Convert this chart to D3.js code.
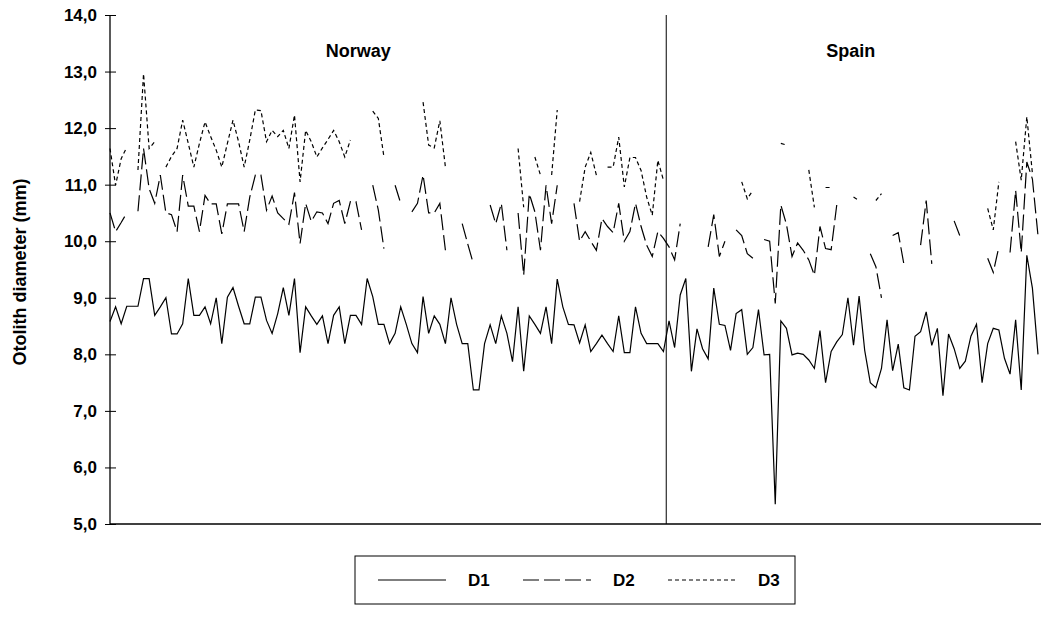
<!DOCTYPE html>
<html>
<head>
<meta charset="utf-8">
<script src="https://cdn.jsdelivr.net/npm/d3@7"></script>
<style>
  body { margin: 0; background: #fff; }
  text { font-family: "Liberation Sans", Arial, sans-serif; font-weight: bold; }
</style>
</head>
<body>
<div id="chart"></div>
<script>
// otolith diameters, one value per fish (null = not measured)
const d1 = [
  8.58, 8.84, 8.54, 8.85, 8.85, 8.85, 9.34, 9.34, 8.69, 8.84,
  9.0, 8.36, 8.36, 8.54, 9.34, 8.69, 8.69, 8.84, 8.54, 9.0,
  8.19, 9.01, 9.18, 8.85, 8.54, 8.54, 9.01, 9.01, 8.6, 8.37,
  8.72, 9.18, 8.69, 9.34, 8.03, 8.84, 8.68, 8.53, 8.68, 8.19,
  8.69, 8.84, 8.19, 8.69, 8.69, 8.53, 9.34, 9.02, 8.53, 8.53,
  8.19, 8.37, 8.84, 8.53, 8.19, 8.03, 9.02, 8.37, 8.68, 8.53,
  8.19, 9.0, 8.53, 8.19, 8.19, 7.37, 7.37, 8.19, 8.52, 8.19,
  8.68, 8.37, 7.87, 8.84, 7.70, 8.68, 8.53, 8.37, 8.84, 8.19,
  9.33, 8.84, 8.53, 8.52, 8.2, 8.52, 8.05, 8.19, 8.34, 8.19,
  8.05, 8.68, 8.03, 8.03, 8.84, 8.37, 8.19, 8.19, 8.19, 8.05,
  8.59, 8.12, 9.05, 9.34, 7.70, 8.45, 8.1, 7.92, 9.17, 8.53,
  8.51, 8.07, 8.72, 8.79, 8.0, 8.12, 8.79, 7.99, 8.0, 5.35,
  8.59, 8.46, 7.99, 8.02, 8.0, 7.9, 7.75, 8.42, 7.5, 8.05,
  8.22, 8.35, 9.0, 8.16, 9.03, 8.07, 7.5, 7.41, 7.75, 8.61,
  7.71, 8.18, 7.41, 7.37, 8.32, 8.4, 8.75, 8.16, 8.46, 7.27,
  8.36, 8.1, 7.75, 7.88, 8.32, 8.53, 7.5, 8.19, 8.46, 8.43,
  7.93, 7.65, 8.61, 7.37, 9.75, 9.17, 8.0
];

const d2 = [
  10.5, 10.17, 10.33, 10.5, null, 10.53, 11.64, 10.93, 10.67, 11.17,
  10.5, 10.47, 10.17, 11.17, 10.62, 10.62, 10.17, 10.81, 10.66, 10.66,
  10.13, 10.66, 10.66, 10.66, 10.17, 10.78, 11.17, 11.17, 10.55, 10.8,
  10.5, 10.4, 10.3, 10.86, 9.96, 10.67, 10.35, 10.52, 10.5, 10.31,
  10.67, 10.72, 10.31, 10.7, 10.7, 10.2, null, 10.99, 10.55, 9.87,
  null, 10.99, 10.67, null, 10.52, 10.67, 11.17, 10.5, 10.5, 10.67,
  9.84, null, null, 10.31, 9.95, 9.6, null, null, 10.64, 10.31,
  10.67, 9.84, null, 10.5, 9.4, 10.84, 10.52, 9.84, 10.99, 10.31,
  10.99, null, null, 10.67, 10.0, 10.17, 10.0, 9.84, 10.4, 10.26,
  10.15, 10.67, 10.0, 10.17, 10.67, 10.26, 9.93, 9.73, 10.17, 10.05,
  9.9, 9.67, 10.31, null, null, null, null, 9.9, 10.47, 9.73,
  10.0, null, 10.2, 10.1, 9.78, 9.7, null, 10.03, 10.0, 8.9,
  10.64, 10.3, 9.73, 9.97, 9.84, 9.67, 9.4, 10.26, 9.87, 9.85,
  10.64, null, null, null, null, null, 9.78, 9.55, 9.0, null,
  10.1, 10.15, 9.6, null, null, 9.93, 10.72, 9.6, null, null,
  null, 10.36, 10.1, null, null, null, null, 9.7, 9.45, 9.9,
  null, 9.8, 10.9, 9.8, 11.4, 11.1, 10.1
];

const d3v = [
  11.64, 10.99, 11.46, 11.66, null, 11.26, 12.96, 11.64, 11.76, null,
  11.31, 11.5, 11.64, 12.14, 11.73, 11.31, 11.73, 12.11, 11.85, 11.61,
  11.31, 11.73, 12.14, 11.76, 11.31, 11.79, 12.32, 12.31, 11.76, 11.96,
  11.85, 11.96, 11.64, 12.23, 11.05, 11.96, 11.76, 11.49, 11.65, 11.8,
  11.96, 11.76, 11.49, 11.79, null, null, null, 12.3, 12.17, 11.49,
  null, null, null, null, null, null, 12.46, 11.7, 11.65, 12.13,
  11.31, null, null, null, null, null, null, null, null, null,
  null, null, null, 11.64, 10.6, null, 11.49, 11.17, null, 11.17,
  12.32, null, null, null, 10.7, 11.31, 11.57, 11.17, null, 11.31,
  11.31, 11.84, 10.96, 11.48, 11.48, 11.25, 10.78, 10.46, 11.43, 11.08,
  null, null, null, null, null, null, null, null, null, null,
  null, null, null, 11.05, 10.75, 10.9, null, null, null, null,
  11.73, 11.7, null, null, null, 11.26, 10.6, null, 10.95, 10.95,
  null, null, null, 10.78, 10.72, null, null, 10.72, 10.84, null,
  null, null, null, null, null, null, null, null, null, null,
  null, null, null, null, null, null, null, 10.58, 10.2, 11.05,
  null, null, 11.76, 11.08, 12.2, 11.2, null
];

const yTicks = [5, 6, 7, 8, 9, 10, 11, 12, 13, 14];
const regions = ["Norway", "Spain"];
const regionCentre = [44.4, 132.5]; // fish index under each label
const splitIndex = 99.5; // last Norway fish is 99
const seriesNames = ["D1", "D2", "D3"];
const dashes = [null, "16,5", "4,3"];

const width = 1041, height = 630;
const fontSize = 17;

const svg = d3.select("#chart")
  .append("svg")
  .attr("width", width)
  .attr("height", height);

const x = d3.scaleLinear().domain([0, d1.length - 1]).range([110, 1038]);
const y = d3.scaleLinear().domain([5, 14]).range([524, 15]);

// y axis
const yAxis = svg.append("g")
  .attr("transform", "translate(110,0)")
  .call(d3.axisLeft(y)
    .tickValues(yTicks)
    .tickSize(5)
    .tickPadding(8)
    .tickFormat(d => d3.format(".1f")(d).replace(".", ",")));
yAxis.select(".domain").remove();
yAxis.selectAll(".tick line").attr("x2", 6).attr("x1", -5).attr("stroke", "#000");
yAxis.selectAll(".tick text")
  .attr("font-size", fontSize)
  .attr("font-family", "Liberation Sans, Arial, sans-serif")
  .attr("font-weight", "bold")
  .attr("fill", "#000");

svg.append("line")
  .attr("x1", 110).attr("x2", 110)
  .attr("y1", y(14)).attr("y2", y(5))
  .attr("stroke", "#000").attr("stroke-width", 1.3);

svg.append("line")
  .attr("x1", 110).attr("x2", width)
  .attr("y1", y(5)).attr("y2", y(5))
  .attr("stroke", "#000").attr("stroke-width", 1.3);

// country split
svg.append("line")
  .attr("x1", x(splitIndex)).attr("x2", x(splitIndex))
  .attr("y1", y(14)).attr("y2", y(5))
  .attr("stroke", "#000").attr("stroke-width", 1);

svg.selectAll(".region")
  .data(regions)
  .enter()
  .append("text")
  .attr("class", "region")
  .attr("x", (d, i) => x(regionCentre[i]))
  .attr("y", 57)
  .attr("text-anchor", "middle")
  .attr("font-size", fontSize + 1)
  .text(d => d);

svg.append("text")
  .attr("transform", "translate(26,272) rotate(-90)")
  .attr("text-anchor", "middle")
  .attr("font-size", fontSize + 1)
  .text("Otolith diameter (mm)");

// the three diameter series
const line = d3.line()
  .defined(d => d != null)
  .x((d, i) => x(i))
  .y(d => y(d));

[d1, d2, d3v].forEach((series, k) => {
  svg.append("path")
    .datum(series)
    .attr("fill", "none")
    .attr("stroke", "#000")
    .attr("stroke-width", 1.2)
    .attr("stroke-dasharray", dashes[k])
    .attr("d", line);
});

// legend
const legend = svg.append("g").attr("transform", "translate(355,556)");
legend.append("rect")
  .attr("width", 440).attr("height", 48)
  .attr("fill", "#fff").attr("stroke", "#000").attr("stroke-width", 1);

const item = legend.selectAll(".item")
  .data(seriesNames)
  .enter()
  .append("g")
  .attr("class", "item")
  .attr("transform", (d, i) => `translate(${23 + i * 145},24)`);

item.append("line")
  .attr("x1", 0).attr("x2", 68)
  .attr("stroke", "#000").attr("stroke-width", 1.2)
  .attr("stroke-dasharray", (d, i) => dashes[i]);

item.append("text")
  .attr("x", 90).attr("y", 6)
  .attr("font-size", fontSize)
  .text(d => d);
</script>
</body>
</html>
